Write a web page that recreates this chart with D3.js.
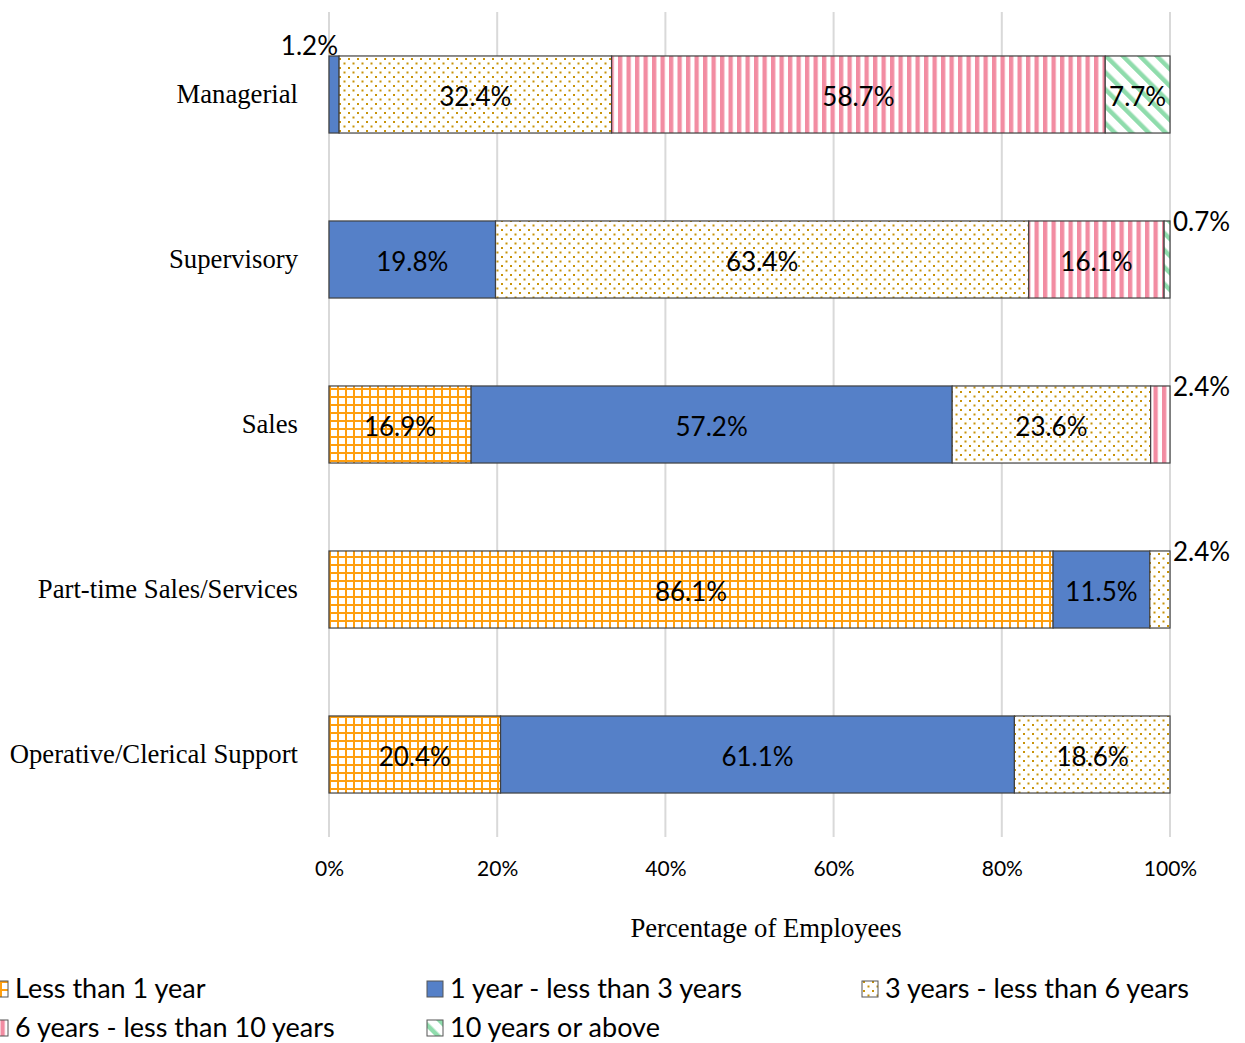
<!DOCTYPE html>
<html>
<head>
<meta charset="utf-8">
<script src="https://cdn.jsdelivr.net/npm/d3@7"></script>
<style>
  body { margin: 0; background: #fff; }
  svg text { fill: #000; }
</style>
</head>
<body>
<div id="chart"></div>
<script>
// data
var categories = ["Managerial", "Supervisory", "Sales", "Part-time Sales/Services", "Operative/Clerical Support"];
var seriesNames = ["Less than 1 year", "1 year - less than 3 years", "3 years - less than 6 years",
                   "6 years - less than 10 years", "10 years or above"];
var lessThan1 = [0, 0, 16.9, 86.1, 20.4];
var oneToThree = [1.2, 19.8, 57.2, 11.5, 61.1];
var threeToSix = [32.4, 63.4, 23.6, 2.4, 18.6];
var sixToTen = [58.7, 16.1, 2.4, 0, 0];
var tenPlus = [7.7, 0.7, 0, 0, 0];
var xTicks = [0, 20, 40, 60, 80, 100];

var seriesValues = [lessThan1, oneToThree, threeToSix, sixToTen, tenPlus];
var fills = ["url(#pGrid)", "#5580c8", "url(#pDots)", "url(#pStripes)", "url(#pDiag)"];

var svgWidth = 1245, svgHeight = 1043;
var margin = { left: 329, top: 12, right: 75, bottom: 206 };
var chartWidth = svgWidth - margin.left - margin.right;
var chartHeight = svgHeight - margin.top - margin.bottom;

var sansFont = "Lato, 'Open Sans', sans-serif";
var serifFont = "'Liberation Serif', 'Times New Roman', serif";

var svg = d3.select("#chart").append("svg")
    .attr("width", svgWidth)
    .attr("height", svgHeight);

// patterns
var defs = svg.append("defs");

var pGrid = defs.append("pattern").attr("id", "pGrid")
    .attr("patternUnits", "userSpaceOnUse").attr("width", 8).attr("height", 8);
pGrid.append("rect").attr("width", 8).attr("height", 8).attr("fill", "#fff");
pGrid.append("rect").attr("x", 0).attr("y", 0).attr("width", 2).attr("height", 8).attr("fill", "#ff9f10");
pGrid.append("rect").attr("x", 0).attr("y", 0).attr("width", 8).attr("height", 2).attr("fill", "#ff9f10");

var pDots = defs.append("pattern").attr("id", "pDots")
    .attr("patternUnits", "userSpaceOnUse").attr("width", 9).attr("height", 9);
pDots.append("rect").attr("width", 9).attr("height", 9).attr("fill", "#fff");
pDots.append("rect").attr("x", 1).attr("y", 1).attr("width", 2).attr("height", 2).attr("fill", "#c8930a");
pDots.append("rect").attr("x", 5.5).attr("y", 5.5).attr("width", 2).attr("height", 2).attr("fill", "#c8930a");

var pStripes = defs.append("pattern").attr("id", "pStripes")
    .attr("patternUnits", "userSpaceOnUse").attr("width", 8.5).attr("height", 8);
pStripes.append("rect").attr("width", 8.5).attr("height", 8).attr("fill", "#fff");
pStripes.append("rect").attr("x", 0).attr("width", 4.3).attr("height", 8).attr("fill", "#f28ca2");

var pDiag = defs.append("pattern").attr("id", "pDiag")
    .attr("patternUnits", "userSpaceOnUse").attr("width", 12).attr("height", 12)
    .attr("patternTransform", "rotate(-45)");
pDiag.append("rect").attr("width", 12).attr("height", 12).attr("fill", "#fff");
pDiag.append("rect").attr("x", 0).attr("width", 4.5).attr("height", 12).attr("fill", "#8fdcac");

var chartGroup = svg.append("g")
    .attr("transform", `translate(${margin.left}, ${margin.top})`);

var xScale = d3.scaleLinear().domain([0, 100]).range([0, chartWidth]);
var yScale = d3.scaleBand().domain(categories).range([0, chartHeight]).paddingInner(0.533).paddingOuter(0.2665);

// gridlines
chartGroup.selectAll(".grid").data(xTicks).enter()
    .append("line")
    .attr("x1", d => xScale(d)).attr("x2", d => xScale(d))
    .attr("y1", 0).attr("y2", chartHeight)
    .attr("stroke", "#d9d9d9").attr("stroke-width", 2);

// x tick labels
var xAxis = d3.axisBottom(xScale).tickValues(xTicks).tickFormat(d => d + "%").tickSize(0).tickPadding(0);
var xg = chartGroup.append("g")
    .attr("transform", `translate(0, ${chartHeight + 24})`)
    .call(xAxis);
xg.select(".domain").remove();
xg.selectAll("text").attr("font-family", sansFont).attr("font-size", "21px").attr("fill", "#000");

// category labels
var yAxis = d3.axisLeft(yScale).tickSize(0).tickPadding(31);
var yg = chartGroup.append("g").call(yAxis);
yg.select(".domain").remove();
yg.selectAll("text").attr("font-family", serifFont).attr("font-size", "26.7px").attr("fill", "#000");

// stacked segments
var segs = [];
categories.forEach(function (cat, i) {
    var x0 = 0;
    seriesValues.forEach(function (vals, s) {
        var v = vals[i];
        if (v > 0) segs.push({ cat: cat, s: s, x0: x0, v: v, i: i });
        x0 += v;
    });
});

chartGroup.selectAll(".seg").data(segs).enter()
    .append("rect")
    .attr("x", d => xScale(d.x0))
    .attr("y", d => yScale(d.cat))
    .attr("width", d => xScale(Math.min(d.x0 + d.v, 100)) - xScale(d.x0))
    .attr("height", yScale.bandwidth())
    .attr("fill", d => fills[d.s])
    .attr("stroke", "#404040")
    .attr("stroke-width", 1.2);

// labels
function labelPos(d) {
    var w = xScale(d.v);
    if (w > 40) return { x: xScale(d.x0 + d.v / 2), y: yScale(d.cat) + yScale.bandwidth() / 2 + 11, anchor: "middle" };
    if (d.x0 < 5) return { x: xScale(d.x0) + 9, y: yScale(d.cat) - 1, anchor: "end" };
    return { x: chartWidth + 3, y: yScale(d.cat) + 10, anchor: "start" };
}

chartGroup.selectAll(".lbl").data(segs).enter()
    .append("text")
    .attr("x", d => labelPos(d).x)
    .attr("y", d => labelPos(d).y)
    .attr("text-anchor", d => labelPos(d).anchor)
    .attr("font-family", sansFont)
    .attr("font-size", "26px")
    .text(d => d.v.toFixed(1) + "%");

// axis title
svg.append("text")
    .attr("x", 766).attr("y", 937)
    .attr("text-anchor", "middle")
    .attr("font-family", serifFont)
    .attr("font-size", "26.7px")
    .text("Percentage of Employees");

// legend
var legendPos = [[-8, 989], [427, 989], [862, 989], [-8, 1028], [427, 1028]];
var legend = svg.selectAll(".leg").data(seriesNames).enter()
    .append("g")
    .attr("transform", (d, i) => `translate(${legendPos[i][0]}, ${legendPos[i][1]})`);
legend.append("rect")
    .attr("x", 0).attr("y", -8).attr("width", 16).attr("height", 16)
    .attr("fill", (d, i) => fills[i])
    .attr("stroke", "#555").attr("stroke-width", 1);
legend.append("text")
    .attr("x", 23).attr("y", 9)
    .attr("font-family", sansFont)
    .attr("font-size", "27px")
    .text(d => d);
</script>
</body>
</html>
